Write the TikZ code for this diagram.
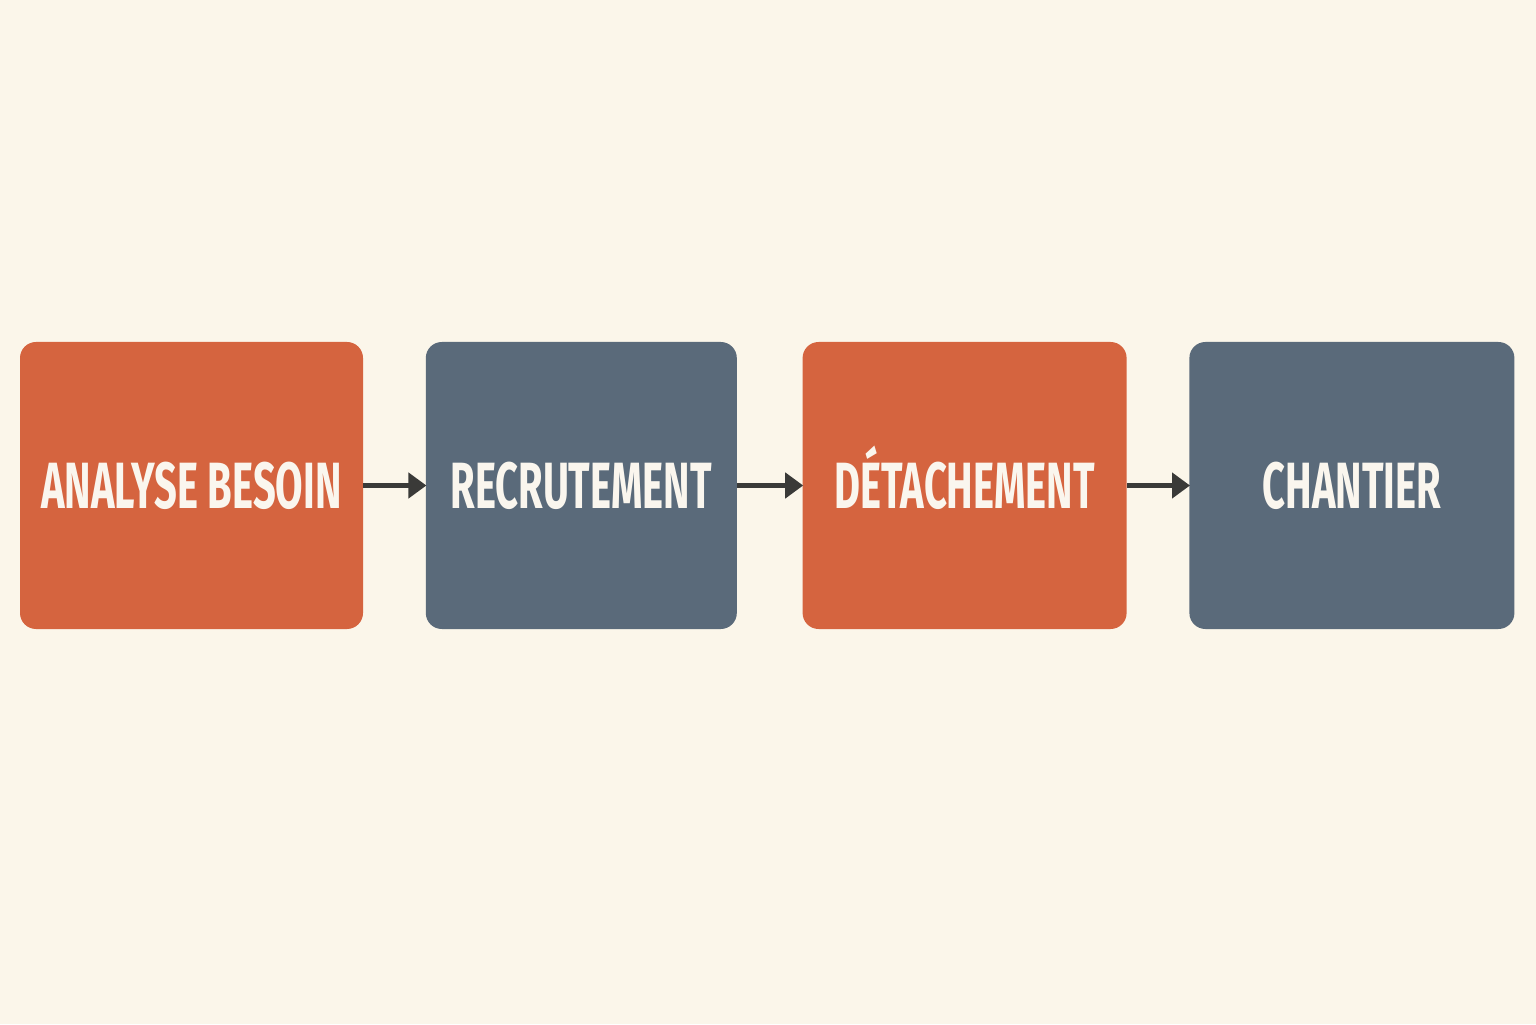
\documentclass[tikz,border=0pt]{standalone}
\usepackage{fontspec}
\setmainfont{Fira Sans}[FakeStretch=0.61]
\usetikzlibrary{positioning,arrows.meta}
\definecolor{paper}{HTML}{FBF6EA}
\definecolor{rust}{HTML}{D5643F}
\definecolor{slate}{HTML}{5A6A7A}
\definecolor{ink}{HTML}{3A3A38}
\definecolor{chalk}{HTML}{FAF6EE}
\tikzset{
	stage/.style={rectangle, rounded corners=8pt, minimum height=143.5pt, inner sep=0pt,
		text height=22.5pt, text depth=0pt,
		text=chalk, font=\fontsize{32.7}{36}\selectfont\bfseries},
	hot/.style={stage, fill=rust},
	cold/.style={stage, fill=slate},
	flow/.style={ink, line width=2.5pt, -{Triangle[length=9pt,width=12.5pt]}, shorten >=-0.5pt}
}
\begin{document}
\begin{tikzpicture}[x=0.5pt,y=0.5pt]
	\fill[paper] (0,0) rectangle (1536,1024);
	\useasboundingbox (0,0) rectangle (1536,1024);

	\node [hot, minimum width=171.5pt] (besoin) at (191.5,538.5) {ANALYSE BESOIN};
	\node [cold, minimum width=155.5pt, right=31pt of besoin] (recrut) {RECRUTEMENT};
	\node [hot, minimum width=162pt, right=32.5pt of recrut] (detach) {DÉTACHEMENT};
	\node [cold, minimum width=162.5pt, right=31pt of detach] (chantier) {CHANTIER};

	\draw [flow] (besoin) -- (recrut);
	\draw [flow] (recrut) -- (detach);
	\draw [flow] (detach) -- (chantier);

\end{tikzpicture}
\end{document}
